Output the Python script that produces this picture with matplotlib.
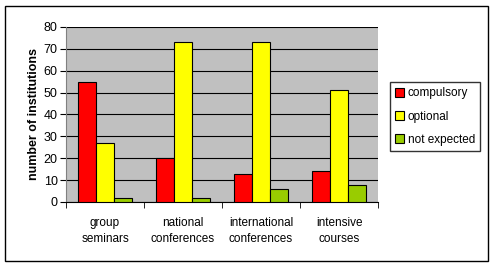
import matplotlib
matplotlib.use("Agg")
import matplotlib.pyplot as plt
import numpy as np
from matplotlib.patches import Rectangle

plt.rcParams['font.family'] = ['Liberation Sans', 'DejaVu Sans']

categories = ["group\nseminars", "national\nconferences", "international\nconferences", "intensive\ncourses"]
series = ["compulsory", "optional", "not expected"]
compulsory = [55, 20, 13, 14]
optional = [27, 73, 73, 51]
not_expected = [2, 2, 6, 8]
colors = ["#FF0000", "#FFFF00", "#99CC00"]

W, H = 494, 267
fig = plt.figure(figsize=(W / 100, H / 100), dpi=100)
fig.patch.set_facecolor("white")

# рамка навколо діаграми
fig.add_artist(Rectangle((5 / W, 6 / H), (488 - 5) / W, (261 - 6) / H,
                         transform=fig.transFigure, fill=False, edgecolor="black", lw=1))

ax = fig.add_axes([66 / W, (H - 202) / H, (378 - 66) / W, (202 - 27) / H])
ax.set_facecolor("#C0C0C0")

x = np.arange(len(categories))
w = 0.23
for j, (vals, c, name) in enumerate(zip([compulsory, optional, not_expected], colors, series)):
    ax.bar(x + (j - 1) * w, vals, w, color=c, edgecolor="black", lw=0.8, label=name, zorder=3)

ax.set_xlim(-0.5, len(categories) - 0.5)
ax.set_ylim(0, 80)
ax.set_yticks(range(0, 81, 10))
ax.yaxis.grid(True, color="black", lw=0.8, zorder=1)
ax.set_axisbelow(True)
ax.set_xticks(x)
ax.set_xticklabels(categories, fontsize=8.5, linespacing=1.45)
ax.tick_params(axis="x", length=0, pad=11)
ax.set_xticks(np.arange(-0.5, len(categories)), minor=True)
ax.tick_params(axis="x", which="minor", length=4, color="black")
ax.tick_params(axis="y", labelsize=9, length=4, pad=2)

for s in ["top", "right"]:
    ax.spines[s].set_visible(False)
ax.spines["left"].set_color("#808080")
ax.spines["bottom"].set_color("black")

ax.set_ylabel("number of institutions", fontsize=9, fontweight="bold", labelpad=3)

leg = fig.legend(loc="upper left", bbox_to_anchor=(390 / W, (H - 82) / H),
                 fontsize=8.5, frameon=True, fancybox=False, edgecolor="black",
                 handlelength=0.75, handleheight=0.75, handletextpad=0.3,
                 borderpad=0.45, labelspacing=0.95, borderaxespad=0)
leg.get_frame().set_linewidth(1)

fig.savefig("out.png", dpi=100)
